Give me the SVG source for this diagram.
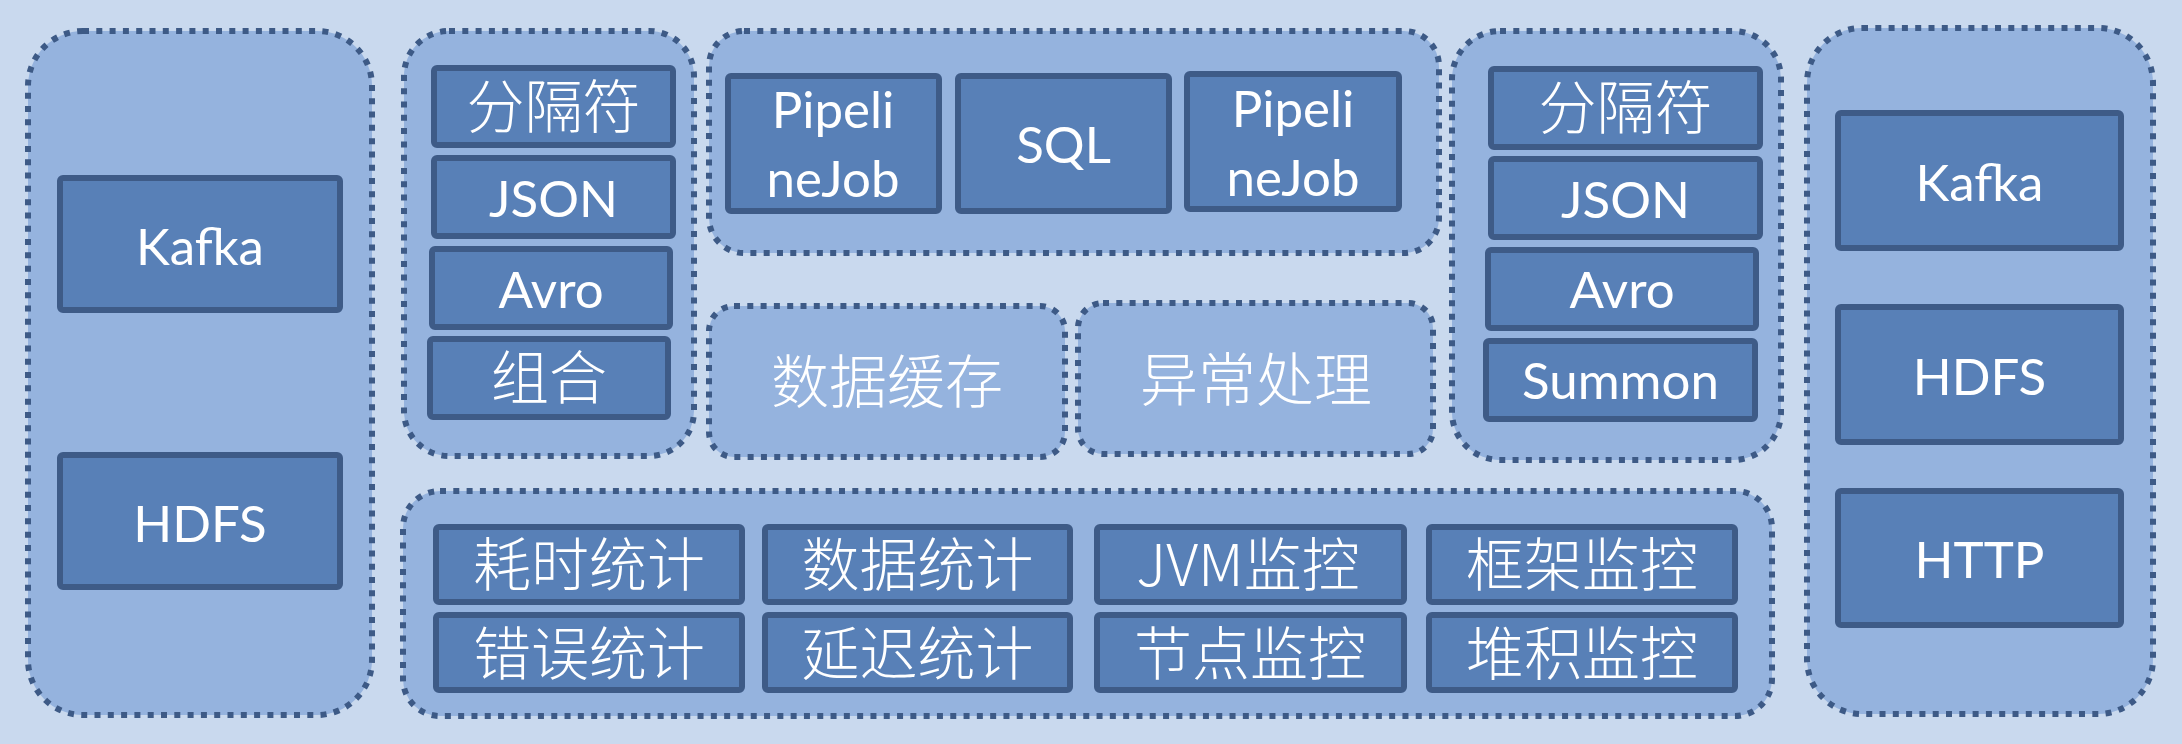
<svg xmlns="http://www.w3.org/2000/svg" width="2182" height="744" viewBox="0 0 2182 744">
<style>
.grp{fill:#95B3DE;stroke:#3D5A86;stroke-width:6;stroke-dasharray:6 7.3}
.box{fill:#5880B7;stroke:#3E5B87;stroke-width:6}
.t{fill:#FFFFFF;font-family:Lato,"Noto Sans","Liberation Sans",sans-serif;font-size:51px;text-anchor:middle}
.c{fill:#FFFFFF;font-family:"Noto Sans CJK SC","Noto Sans",sans-serif;font-weight:300;font-size:58px;text-anchor:middle}
</style>
<rect x="0" y="0" width="2182" height="744" fill="#C9D9EE"/>
<g id="connectors"></g>

<g id="sources">
<rect class="grp" x="28" y="31" width="344" height="684" rx="55"/>
<g id="src-kafka"><rect class="box" x="60" y="178" width="280" height="132" rx="3"/><text class="t" x="200" y="265">Kafka</text></g>
<g id="src-hdfs"><rect class="box" x="60" y="455" width="280" height="132" rx="3"/><text class="t" x="200" y="542">HDFS</text></g>
</g>

<g id="input-formats">
<rect class="grp" x="404" y="31" width="290" height="425" rx="45"/>
<g id="in-delim"><rect class="box" x="434" y="68" width="239" height="77" rx="3"/><text class="c" x="553.5" y="128">分隔符</text></g>
<g id="in-json"><rect class="box" x="434" y="158" width="239" height="78" rx="3"/><text class="t" x="553.5" y="217">JSON</text></g>
<g id="in-avro"><rect class="box" x="432" y="249" width="238" height="78" rx="3"/><text class="t" x="551" y="308">Avro</text></g>
<g id="in-combo"><rect class="box" x="430" y="339" width="238" height="78" rx="3"/><text class="c" x="549" y="399">组合</text></g>
</g>

<g id="jobs">
<rect class="grp" x="709" y="31" width="730" height="222" rx="35"/>
<g id="job-pipeline1"><rect class="box" x="728" y="76" width="211" height="135" rx="3"/><text class="t" x="833" y="128">Pipeli</text><text class="t" x="833" y="197">neJob</text></g>
<g id="job-sql"><rect class="box" x="958" y="76" width="211" height="135" rx="3"/><text class="t" x="1063.5" y="163">SQL</text></g>
<g id="job-pipeline2"><rect class="box" x="1187" y="74" width="212" height="135" rx="3"/><text class="t" x="1293" y="127">Pipeli</text><text class="t" x="1293" y="196">neJob</text></g>
</g>

<g id="cache">
<rect class="grp" x="709" y="306" width="356" height="151" rx="25"/>
<text class="c" x="887" y="403">数据缓存</text>
</g>

<g id="exception">
<rect class="grp" x="1078" y="303" width="355" height="151" rx="25"/>
<text class="c" x="1256" y="401">异常处理</text>
</g>

<g id="output-formats">
<rect class="grp" x="1452" y="31" width="329" height="429" rx="48"/>
<g id="out-delim"><rect class="box" x="1491" y="69" width="269" height="78" rx="3"/><text class="c" x="1625.5" y="129">分隔符</text></g>
<g id="out-json"><rect class="box" x="1491" y="159" width="269" height="78" rx="3"/><text class="t" x="1625.5" y="218">JSON</text></g>
<g id="out-avro"><rect class="box" x="1488" y="250" width="268" height="78" rx="3"/><text class="t" x="1622" y="308">Avro</text></g>
<g id="out-summon"><rect class="box" x="1486" y="341" width="269" height="78" rx="3"/><text class="t" x="1620.5" y="399">Summon</text></g>
</g>

<g id="sinks">
<rect class="grp" x="1807" y="28" width="346" height="686" rx="55"/>
<g id="sink-kafka"><rect class="box" x="1838" y="113" width="283" height="135" rx="3"/><text class="t" x="1979.5" y="201">Kafka</text></g>
<g id="sink-hdfs"><rect class="box" x="1838" y="307" width="283" height="135" rx="3"/><text class="t" x="1979.5" y="395">HDFS</text></g>
<g id="sink-http"><rect class="box" x="1838" y="491" width="283" height="134" rx="3"/><text class="t" x="1979.5" y="578">HTTP</text></g>
</g>

<g id="monitoring">
<rect class="grp" x="403" y="491" width="1369" height="225" rx="37"/>
<g id="m-time"><rect class="box" x="436" y="527" width="306" height="75" rx="3"/><text class="c" x="589" y="586">耗时统计</text></g>
<g id="m-data"><rect class="box" x="765" y="527" width="305" height="75" rx="3"/><text class="c" x="917.5" y="586">数据统计</text></g>
<g id="m-jvm"><rect class="box" x="1097" y="527" width="307" height="75" rx="3"/><text class="c" x="1248" y="586">JVM监控</text></g>
<g id="m-frame"><rect class="box" x="1429" y="527" width="306" height="75" rx="3"/><text class="c" x="1582" y="586">框架监控</text></g>
<g id="m-error"><rect class="box" x="436" y="615" width="306" height="75" rx="3"/><text class="c" x="589" y="675">错误统计</text></g>
<g id="m-delay"><rect class="box" x="765" y="615" width="305" height="75" rx="3"/><text class="c" x="917.5" y="675">延迟统计</text></g>
<g id="m-node"><rect class="box" x="1097" y="615" width="307" height="75" rx="3"/><text class="c" x="1250" y="675">节点监控</text></g>
<g id="m-backlog"><rect class="box" x="1429" y="615" width="306" height="75" rx="3"/><text class="c" x="1582" y="675">堆积监控</text></g>
</g>
</svg>
